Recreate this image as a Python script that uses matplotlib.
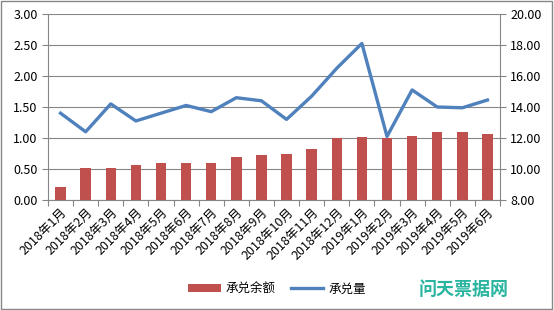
import matplotlib.pyplot as plt
import numpy as np

plt.rcParams['font.family'] = ['Noto Sans CJK SC', 'DejaVu Sans']

# data
months = ['2018年1月', '2018年2月', '2018年3月', '2018年4月', '2018年5月', '2018年6月',
          '2018年7月', '2018年8月', '2018年9月', '2018年10月', '2018年11月', '2018年12月',
          '2019年1月', '2019年2月', '2019年3月', '2019年4月', '2019年5月', '2019年6月']
balance = [0.21, 0.52, 0.52, 0.57, 0.59, 0.59, 0.59, 0.69, 0.73,
           0.75, 0.83, 1.00, 1.02, 1.00, 1.04, 1.09, 1.09, 1.07]
volume = [13.6, 12.4, 14.2, 13.1, 13.6, 14.1, 13.7, 14.6, 14.4,
          13.2, 14.7, 16.5, 18.1, 12.1, 15.1, 14.0, 13.95, 14.45]

fig = plt.figure(figsize=(5.54, 3.10), dpi=100)
ax = fig.add_axes([48 / 554, 1 - 200 / 310, 452 / 554, 186 / 310])
x = np.arange(len(months))

ax.bar(x, balance, width=0.42, color='#C0504D', zorder=2, label='承兑余额')
ax.set_ylim(0, 3)
ax.set_yticks(np.arange(0, 3.01, 0.5))
ax.set_yticklabels(['%.2f' % v for v in np.arange(0, 3.01, 0.5)])
ax.set_xlim(-0.5, len(months) - 0.5)
ax.yaxis.grid(True, color='#868686', linewidth=0.8, zorder=0)
ax.set_axisbelow(True)

# category ticks sit between the bars
ax.set_xticks(np.arange(-0.5, len(months), 1.0), minor=False)
ax.set_xticklabels([])
ax.tick_params(axis='x', which='major', length=4, color='#868686', direction='out')
ax.set_xticks(x, minor=True)
ax.set_xticklabels(months, minor=True, rotation=45, ha='right', rotation_mode='anchor', fontsize=9)
ax.tick_params(axis='x', which='minor', length=0, pad=4)
ax.tick_params(axis='y', length=4, color='#868686', labelsize=9)

for side in ['top', 'right']:
    ax.spines[side].set_visible(False)
ax.spines['left'].set_color('#868686')
ax.spines['bottom'].set_color('#868686')

ax2 = ax.twinx()
ax2.plot(x, volume, color='#4F81BD', linewidth=2.4, zorder=3, label='承兑量')
ax2.set_ylim(8, 20)
ax2.set_yticks(np.arange(8, 20.1, 2))
ax2.set_yticklabels(['%.2f' % v for v in np.arange(8, 20.1, 2)])
ax2.tick_params(axis='y', length=4, color='#868686', labelsize=9)
for side in ['top', 'left', 'bottom']:
    ax2.spines[side].set_visible(False)
ax2.spines['right'].set_color('#868686')

h1, l1 = ax.get_legend_handles_labels()
h2, l2 = ax2.get_legend_handles_labels()
fig.legend(h1 + h2, l1 + l2, loc='center', bbox_to_anchor=(0.5, 1 - 289 / 310), ncol=2,
           frameon=False, fontsize=9, handlelength=2.6, handleheight=0.6, columnspacing=1.2,
           handletextpad=0.4)

fig.text(464 / 554, 1 - 289 / 310, '问天票据网', color='#2BB5A0', fontsize=13, ha='center', va='center',
         fontweight='bold')

fig.patches.append(plt.Rectangle((0.002, 0.003), 0.995, 0.993, transform=fig.transFigure,
                                 fill=False, edgecolor='#868686', linewidth=1))

fig.savefig('out.png', dpi=100)
